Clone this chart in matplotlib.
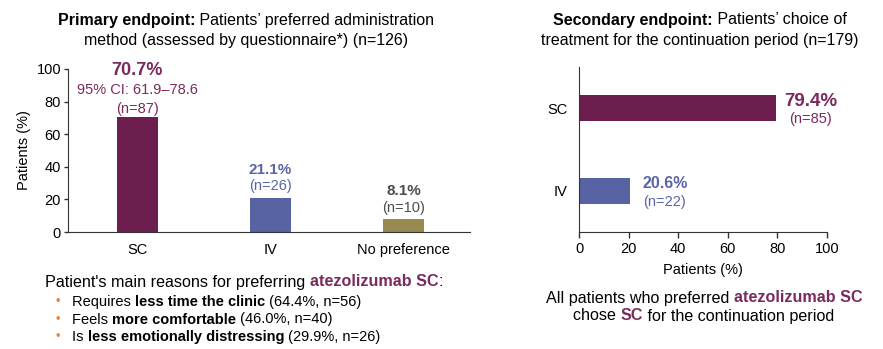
import matplotlib.pyplot as plt
import numpy as np

plt.rcParams['font.family'] = ['Liberation Sans', 'DejaVu Sans']

# Primary endpoint data
prim_cats = ['SC', 'IV', 'No preference']
prim_vals = [70.7, 21.1, 8.1]
prim_n = [87, 26, 10]
prim_ci = '95% CI: 61.9–78.6'

# Secondary endpoint data
sec_cats = ['SC', 'IV']
sec_vals = [79.4, 20.6]
sec_n = [85, 22]

reasons = [('Requires ', 'less time the clinic', ' (64.4%, n=56)'),
           ('Feels ', 'more comfortable', ' (46.0%, n=40)'),
           ('Is ', 'less emotionally distressing', ' (29.9%, n=26)')]

bar_colors = ['#6C1F4E', '#5763A2', '#988A50']
txt_colors = ['#7A2A5C', '#5A66A8', '#4D4D4D']
spine_c = '#333333'

fig = plt.figure(figsize=(8.83, 3.49), dpi=100)
renderer = fig.canvas.get_renderer()


def rich_line(x, y, parts, ha='left', size=10):
    # parts: (text, weight, color) drawn one after another
    items = []
    for s, w, c in parts:
        t = fig.text(0, y, s, fontsize=size, fontweight=w, color=c,
                     va='center', ha='left')
        wd = t.get_window_extent(renderer).width / fig.bbox.width
        items.append((t, wd))
    total = sum(wd for _, wd in items)
    pos = x - total / 2 if ha == 'center' else x
    for t, wd in items:
        t.set_x(pos)
        pos += wd


# ---- left chart
ax1 = fig.add_axes([68 / 883, 1 - 232 / 349, 402 / 883, 163 / 349])
x = np.arange(len(prim_cats))
ax1.bar(x, prim_vals, width=0.31, color=bar_colors)
ax1.set_xlim(-0.52, 2.5)
ax1.set_ylim(0, 100)
ax1.set_yticks([0, 20, 40, 60, 80, 100])
ax1.set_xticks(x)
ax1.set_xticklabels(prim_cats)
ax1.tick_params(axis='x', length=0, pad=8, labelsize=10.5)
ax1.tick_params(axis='y', length=3, width=1, color=spine_c, labelsize=10.5, pad=2)
ax1.set_ylabel('Patients (%)', fontsize=10.5, labelpad=4)
for s in ['top', 'right']:
    ax1.spines[s].set_visible(False)
for s in ['left', 'bottom']:
    ax1.spines[s].set_color(spine_c)

for i, v in enumerate(prim_vals):
    c = txt_colors[i]
    if i == 0:
        ax1.annotate(f'(n={prim_n[i]})', (x[i], v), xytext=(0, 0.5), textcoords='offset points',
                     ha='center', va='bottom', fontsize=10.5, color=c)
        ax1.annotate(prim_ci, (x[i], v), xytext=(0, 14), textcoords='offset points',
                     ha='center', va='bottom', fontsize=10.5, color=c)
        ax1.annotate(f'{v}%', (x[i], v), xytext=(0, 27), textcoords='offset points',
                     ha='center', va='bottom', fontsize=13, fontweight='bold', color=c)
    else:
        ax1.annotate(f'(n={prim_n[i]})', (x[i], v), xytext=(0, 3), textcoords='offset points',
                     ha='center', va='bottom', fontsize=10.5, color=c)
        ax1.annotate(f'{v}%', (x[i], v), xytext=(0, 15), textcoords='offset points',
                     ha='center', va='bottom', fontsize=11, fontweight='bold', color=c)

rich_line(246 / 883, 1 - 20 / 349,
          [('Primary endpoint:', 'bold', 'black'),
           (' Patients’ preferred administration', 'normal', 'black')], ha='center', size=11.5)
fig.text(246 / 883, 1 - 40 / 349, 'method (assessed by questionnaire*) (n=126)',
         fontsize=11.5, ha='center', va='center')

# ---- right chart
ax2 = fig.add_axes([579 / 883, 1 - 232 / 349, 248 / 883, 165 / 349])
y = np.arange(len(sec_cats))
ax2.barh(y, sec_vals, height=0.31, color=bar_colors[:2])
ax2.set_ylim(1.5, -0.5)
ax2.set_xlim(0, 100)
ax2.set_xticks([0, 20, 40, 60, 80, 100])
ax2.set_yticks(y)
ax2.set_yticklabels(sec_cats)
ax2.tick_params(axis='y', length=0, pad=8, labelsize=10.5)
ax2.tick_params(axis='x', length=4, width=1, color=spine_c, labelsize=10.5, pad=3)
ax2.set_xlabel('Patients (%)', fontsize=10.5, labelpad=5)
for s in ['top', 'right']:
    ax2.spines[s].set_visible(False)
for s in ['left', 'bottom']:
    ax2.spines[s].set_color(spine_c)

for i, v in enumerate(sec_vals):
    c = txt_colors[i]
    ax2.annotate(f'{v}%', (v, y[i]), xytext=(25, 5), textcoords='offset points',
                 ha='center', va='center', fontsize=13.5 if i == 0 else 11.5,
                 fontweight='bold', color=c)
    ax2.annotate(f'(n={sec_n[i]})', (v, y[i]), xytext=(25, -8), textcoords='offset points',
                 ha='center', va='center', fontsize=10.5, color=c)

rich_line(700 / 883, 1 - 20 / 349,
          [('Secondary endpoint:', 'bold', 'black'),
           (' Patients’ choice of', 'normal', 'black')], ha='center', size=11.5)
fig.text(700 / 883, 1 - 40 / 349, 'treatment for the continuation period (n=179)',
         fontsize=11.5, ha='center', va='center')

# ---- bottom notes
maroon = txt_colors[0]
rich_line(45 / 883, 1 - 282 / 349,
          [('Patient\'s main reasons for preferring ', 'normal', 'black'),
           ('atezolizumab SC', 'bold', maroon),
           (':', 'normal', 'black')], size=11.6)
for k, (a, b, c) in enumerate(reasons):
    yy = 1 - (302 + k * 17.5) / 349
    fig.text(56 / 883, yy, '•', fontsize=9, color='#E8833A', va='center', ha='left')
    rich_line(72 / 883, yy, [(a, 'normal', 'black'), (b, 'bold', 'black'),
                             (c, 'normal', 'black')], size=10.5)

rich_line(704 / 883, 1 - 298 / 349,
          [('All patients who preferred ', 'normal', 'black'),
           ('atezolizumab SC', 'bold', maroon)], ha='center', size=11.6)
rich_line(704 / 883, 1 - 316 / 349,
          [('chose ', 'normal', 'black'), ('SC', 'bold', maroon),
           (' for the continuation period', 'normal', 'black')], ha='center', size=11.6)

fig.savefig('out.png', dpi=100)
